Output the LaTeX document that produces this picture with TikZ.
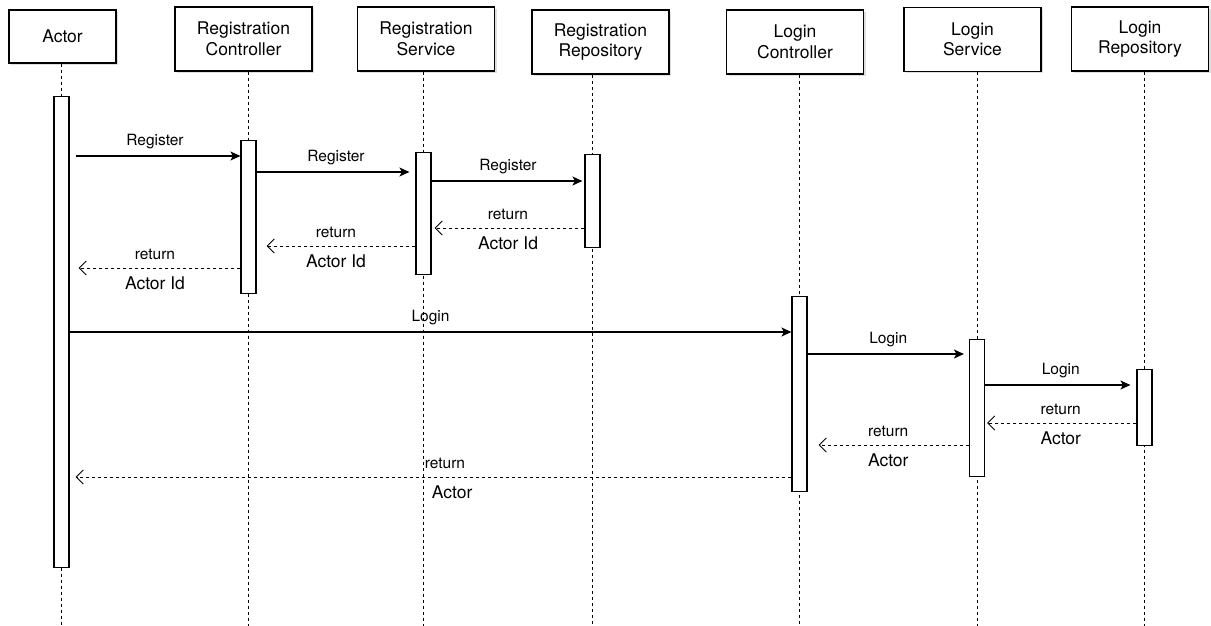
\documentclass[tikz,border=0pt]{standalone}
\usepackage{fontspec}
\setmainfont{TeX Gyre Heros}
\usetikzlibrary{arrows.meta,shadows}

\begin{document}
\begin{tikzpicture}[x=1pt,y=-1pt,
  head/.style={draw,line width=1.3pt,fill=white,align=center,minimum width=137pt,minimum height=64pt,inner sep=2pt,font=\fontsize{17.5}{20.5}\selectfont,drop shadow={shadow xshift=2pt,shadow yshift=-2pt,fill=black!25}},
  bar/.style={draw,line width=1.1pt,fill=white,minimum width=15pt,inner sep=0pt,anchor=north},
  life/.style={line width=1pt,dash pattern=on 3pt off 3pt},
  call/.style={line width=1.3pt,-{Stealth[length=10pt,width=9pt,inset=2.5pt]}},
  back/.style={line width=1pt,dash pattern=on 3pt off 3pt,-{Straight Barb[length=7pt,width=14pt]}},
  msg/.style={font=\fontsize{15.5}{17}\selectfont},
  val/.style={font=\fontsize{17.5}{19}\selectfont}]
\useasboundingbox (0,0) rectangle (1211,626);
%heads
  \node[head,minimum width=107pt,minimum height=53pt] (actor) at (62.5,36.5) {Actor};
  \node[head] (rc) at (243.5,39) {Registration\\Controller};
  \node[head] (rs) at (426,39) {Registration\\Service};
  \node[head] (rr) at (600.5,42) {Registration\\Repository};
  \node[head] (lc) at (795,42) {Login\\Controller};
  \node[head] (ls) at (972.5,39.5) {Login\\Service};
  \node[head] (lr) at (1140,39) {Login\\Repository};
%lifelines
  \coordinate (actorend) at (61.5,626);
  \coordinate (rcend) at (248.5,626);
  \coordinate (rsend) at (423.5,626);
  \coordinate (rrend) at (592.5,626);
  \coordinate (lcend) at (799.5,626);
  \coordinate (lsend) at (977,626);
  \coordinate (lrend) at (1144.5,626);
  \foreach \h in {actor,rc,rs,rr,lc,ls,lr}
    \draw[life] (\h.south -| \h end) -- (\h end);
%bars
  \node[bar,minimum height=471pt] (actorbar) at (actorend |- 0,96) {};
  \node[bar,minimum height=153pt] (rcbar) at (rcend |- 0,140) {};
  \node[bar,minimum height=122pt] (rsbar) at (rsend |- 0,152) {};
  \node[bar,minimum height=93pt] (rrbar) at (rrend |- 0,154) {};
  \node[bar,minimum height=195pt] (lcbar) at (lcend |- 0,296) {};
  \node[bar,minimum height=137pt] (lsbar) at (lsend |- 0,339) {};
  \node[bar,minimum height=76pt] (lrbar) at (lrend |- 0,369) {};
%register
  \draw[call,shorten <=6pt] (actorbar.east |- 0,156) -- node[msg,above=3pt] {Register} (rcbar.west |- 0,156);
  \draw[call,shorten >=6pt] (rcbar.east |- 0,172) -- node[msg,above=3pt] {Register} (rsbar.west |- 0,172);
  \draw[call,shorten >=2pt] (rsbar.east |- 0,181) -- node[msg,above=3pt] {Register} (rrbar.west |- 0,181);
  \draw[back,shorten >=3pt] (rrbar.west |- 0,228) -- node[msg,above=4pt] {return} node[val,below=5pt] {Actor Id} (rsbar.east |- 0,228);
  \draw[back,shorten >=10pt] (rsbar.west |- 0,246) -- node[msg,above=4pt] {return} node[val,below=5pt] {Actor Id} (rcbar.east |- 0,246);
  \draw[back,shorten >=9pt] (rcbar.west |- 0,268) -- node[msg,above=4pt] {return} node[val,below=5pt] {Actor Id} (actorbar.east |- 0,268);
%login
  \draw[call] (actorbar.east |- 0,332) -- node[msg,above=3pt] {Login} (lcbar.west |- 0,332);
  \draw[call,shorten >=5pt] (lcbar.east |- 0,354) -- node[msg,above=3pt] {Login} (lsbar.west |- 0,354);
  \draw[call,shorten >=6pt] (lsbar.east |- 0,385) -- node[msg,above=3pt] {Login} (lrbar.west |- 0,385);
  \draw[back,shorten >=2pt] (lrbar.west |- 0,423) -- node[msg,above=4pt] {return} node[val,below=5pt] {Actor} (lsbar.east |- 0,423);
  \draw[back,shorten >=11pt] (lsbar.west |- 0,445) -- node[msg,above=4pt] {return} node[val,below=5pt] {Actor} (lcbar.east |- 0,445);
  \draw[back,shorten >=6pt] (lcbar.west |- 0,477) -- node[msg,above=4pt,pos=0.48] {return} node[val,below=5pt,pos=0.47] {Actor} (actorbar.east |- 0,477);
\end{tikzpicture}
\end{document}
